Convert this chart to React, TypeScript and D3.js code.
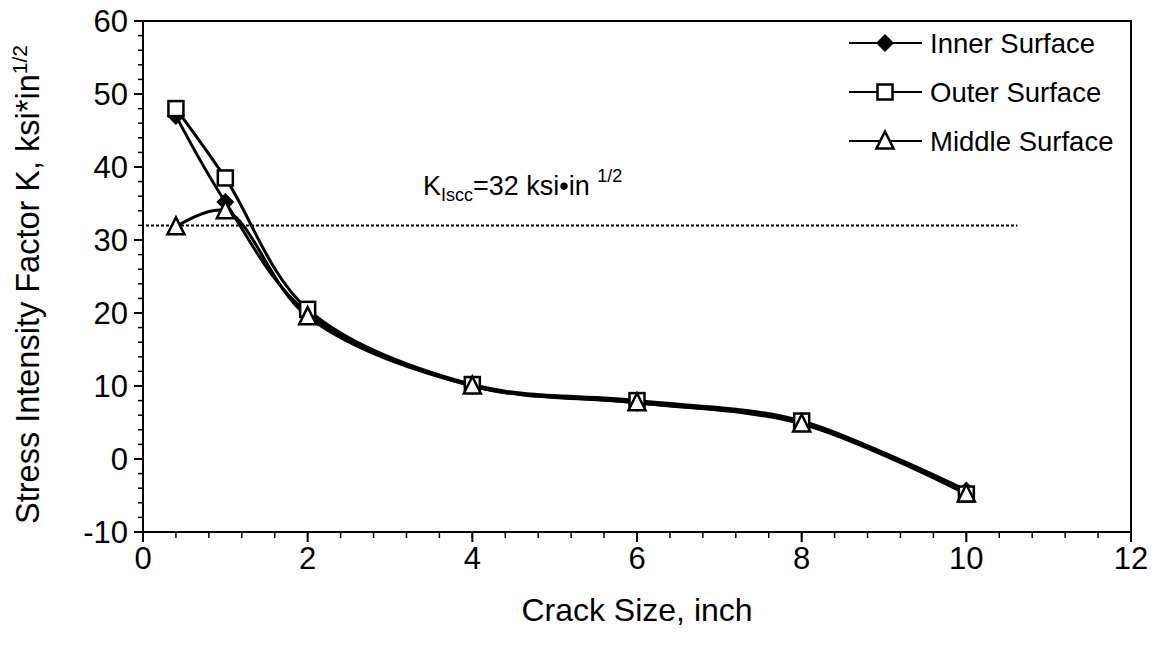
import React from "react";
import * as d3 from "d3";

const crackSize = [0.4, 1, 2, 4, 6, 8, 10];
const innerK = [47, 35.2, 20, 10, 7.7, 5, -4.3];
const outerK = [48, 38.5, 20.5, 10.2, 8, 5.2, -4.8];
const middleK = [31.8, 34, 19.5, 10, 7.7, 4.8, -4.8];
const seriesNames = ["Inner Surface", "Outer Surface", "Middle Surface"];
const xTicks = [0, 2, 4, 6, 8, 10, 12];
const yTicks = [-10, 0, 10, 20, 30, 40, 50, 60];
const kIscc = 32;

const W = 1162;
const H = 660;
const margin = { top: 21, right: 31, bottom: 128, left: 143 };
const font = "'Liberation Sans', Arial, Helvetica, sans-serif";

const Marker = ({ kind, x, y }: { kind: number; x: number; y: number }) => {
  if (kind === 0) {
    const s = 9;
    return (
      <path
        d={`M${x},${y - s}L${x + s},${y}L${x},${y + s}L${x - s},${y}Z`}
        fill="#000"
      />
    );
  }
  if (kind === 1) {
    return (
      <rect x={x - 7.5} y={y - 7.5} width={15} height={15} fill="#fff" stroke="#000" strokeWidth={2.5} />
    );
  }
  const s = 8.5;
  return (
    <path
      d={`M${x},${y - s - 1}L${x + s},${y + s - 1}L${x - s},${y + s - 1}Z`}
      fill="#fff"
      stroke="#000"
      strokeWidth={2.5}
    />
  );
};

const App = () => {
  const x = d3.scaleLinear().domain([0, 12]).range([margin.left, W - margin.right]);
  const y = d3.scaleLinear().domain([-10, 60]).range([H - margin.bottom, margin.top]);
  const x0 = x(0), x1 = x(12), y0 = y(-10), y1 = y(60);

  const line = d3
    .line<number>()
    .x((_, i) => x(crackSize[i]))
    .y((d) => y(d))
    .curve(d3.curveCatmullRom.alpha(0.5));

  const all = [innerK, outerK, middleK];
  const xMinor = d3.range(0, 12.001, 0.4);
  const yMinor = d3.range(-10, 60.001, 2);

  return (
    <svg
      width={W}
      height={H}
      style={{ position: "absolute", left: 0, top: 0, background: "#fff" }}
      fontFamily={font}
    >
      {/* plot frame */}
      <rect x={x0} y={y1} width={x1 - x0} height={y0 - y1} fill="none" stroke="#000" strokeWidth={2} />

      {/* y ticks */}
      {yMinor.map((v) => (
        <line key={"ym" + v} x1={x0 - 5} x2={x0} y1={y(v)} y2={y(v)} stroke="#000" strokeWidth={1.5} />
      ))}
      {yTicks.map((v) => (
        <g key={"y" + v}>
          <line x1={x0 - 9} x2={x0} y1={y(v)} y2={y(v)} stroke="#000" strokeWidth={2} />
          <text x={x0 - 15} y={y(v)} dy="0.36em" textAnchor="end" fontSize={31}>
            {v}
          </text>
        </g>
      ))}

      {/* x ticks */}
      {xMinor.map((v) => (
        <line key={"xm" + v} x1={x(v)} x2={x(v)} y1={y0} y2={y0 + 6} stroke="#000" strokeWidth={1.5} />
      ))}
      {xTicks.map((v) => (
        <g key={"x" + v}>
          <line x1={x(v)} x2={x(v)} y1={y0} y2={y0 + 10} stroke="#000" strokeWidth={2} />
          <text x={x(v)} y={y0 + 37} textAnchor="middle" fontSize={31}>
            {v}
          </text>
        </g>
      ))}

      {/* K_Iscc threshold line */}
      <line
        x1={x0 + 3}
        x2={x(10.62)}
        y1={y(kIscc)}
        y2={y(kIscc)}
        stroke="#000"
        strokeWidth={2}
        strokeDasharray="3,2"
      />
      <text x={x(3.4)} y={y(kIscc) - 30} fontSize={27}>
        K<tspan fontSize={18} dy={6}>Iscc</tspan>
        <tspan dy={-6}>=32 ksi•in </tspan>
        <tspan fontSize={18} dy={-13}>1/2</tspan>
      </text>

      {/* series */}
      {all.map((vals, k) => (
        <path key={"l" + k} d={line(vals) || ""} fill="none" stroke="#000" strokeWidth={3} />
      ))}
      {all.map((vals, k) =>
        vals.map((v, i) => <Marker key={`m${k}-${i}`} kind={k} x={x(crackSize[i])} y={y(v)} />)
      )}

      {/* legend */}
      {seriesNames.map((name, k) => {
        const ly = 43 + k * 49;
        return (
          <g key={"lg" + k}>
            <line x1={849} x2={922} y1={ly} y2={ly} stroke="#000" strokeWidth={2} />
            <Marker kind={k} x={885} y={ly} />
            <text x={930} y={ly} dy="0.36em" fontSize={27.5}>
              {name}
            </text>
          </g>
        );
      })}

      {/* axis titles */}
      <text x={(x0 + x1) / 2} y={621} textAnchor="middle" fontSize={32}>
        Crack Size, inch
      </text>
      <text
        transform={`translate(39, ${(y0 + y1) / 2 + 8}) rotate(-90)`}
        textAnchor="middle"
        fontSize={32.5}
      >
        Stress Intensity Factor K, ksi*in
        <tspan fontSize={21} dy={-12}>1/2</tspan>
      </text>
    </svg>
  );
};

export default App;
